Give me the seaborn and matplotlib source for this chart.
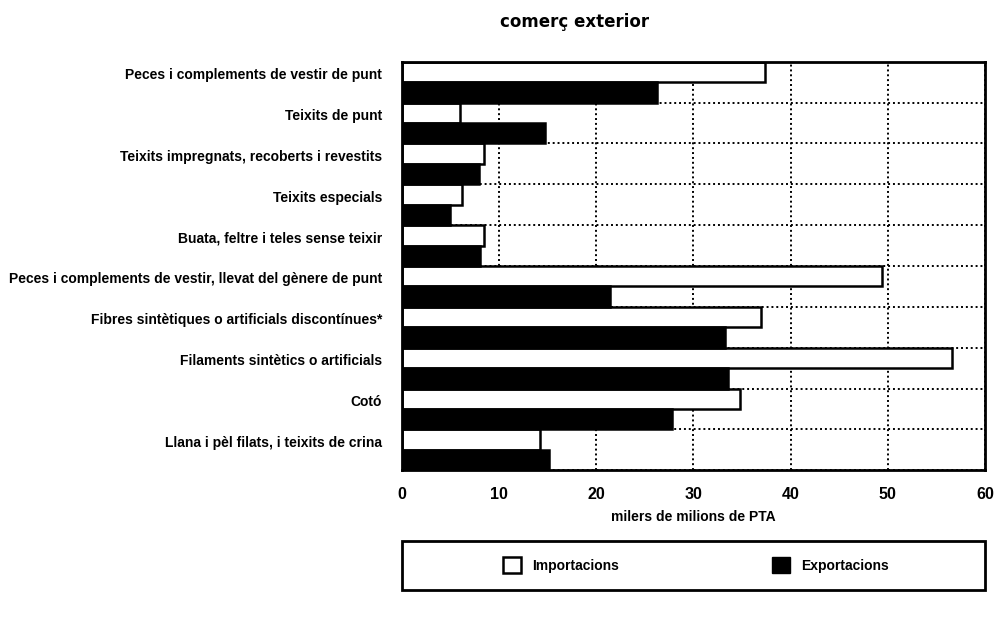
import pandas as pd
import numpy as np
import seaborn as sns
import matplotlib.pyplot as plt
from matplotlib.patches import Patch, Rectangle

# categories and values (milers de milions de PTA)
categories = [
    "Peces i complements de vestir de punt",
    "Teixits de punt",
    "Teixits impregnats, recoberts i revestits",
    "Teixits especials",
    "Buata, feltre i teles sense teixir",
    "Peces i complements de vestir, llevat del gènere de punt",
    "Fibres sintètiques o artificials discontínues*",
    "Filaments sintètics o artificials",
    "Cotó",
    "Llana i pèl filats, i teixits de crina",
]
importacions = [37.4, 6.0, 8.5, 6.2, 8.5, 49.4, 37.0, 56.6, 34.8, 14.2]
exportacions = [26.3, 14.7, 8.0, 5.0, 8.1, 21.4, 33.3, 33.6, 27.8, 15.2]
series = ["Importacions", "Exportacions"]
x_ticks = [0, 10, 20, 30, 40, 50, 60]

df = pd.DataFrame({
    "categoria": categories * 2,
    "valor": importacions + exportacions,
    "serie": [series[0]] * len(categories) + [series[1]] * len(categories),
})

sns.set_style("white")
plt.rcParams['font.family'] = ['Liberation Sans', 'DejaVu Sans']
plt.rcParams['text.color'] = 'black'
plt.rcParams['xtick.color'] = 'black'
plt.rcParams['ytick.color'] = 'black'
plt.rcParams['axes.labelcolor'] = 'black'

fig = plt.figure(figsize=(9.94, 6.18), dpi=100)
ax = fig.add_axes([0.404, 0.239, 0.587, 0.661])

sns.barplot(data=df, x="valor", y="categoria", hue="serie", hue_order=series,
            palette=["white", "black"], edgecolor="black", linewidth=1.8,
            width=1.0, dodge=True, orient="h", ax=ax, legend=False)

ax.set_xlim(0, 60)
ax.set_ylim(len(categories) - 0.5, -0.5)
ax.set_xticks(x_ticks)
ax.set_xticklabels([str(t) for t in x_ticks], fontsize=11.5, fontweight="bold")
ax.set_yticks(np.arange(len(categories)))
ax.set_yticklabels(categories, fontsize=10, fontweight="bold")
for lbl in ax.get_yticklabels():
    lbl.set_va("bottom")
ax.set_yticks(np.arange(len(categories) + 1) - 0.5, minor=True)
ax.tick_params(axis="y", which="major", length=0, pad=14)
ax.tick_params(axis="y", which="minor", length=10, width=1.8, direction="out", color="black")
ax.tick_params(axis="x", which="major", length=8, width=1.8, direction="out", color="black", pad=4)

ax.set_axisbelow(True)
ax.grid(False)
ax.xaxis.grid(True, which="major", linestyle=(0, (1, 1.5)), color="black", linewidth=1.4)
ax.yaxis.grid(True, which="minor", linestyle=(0, (1, 1.5)), color="black", linewidth=1.4)

for s in ax.spines.values():
    s.set_color("black")
    s.set_linewidth(2)

ax.set_xlabel("milers de milions de PTA", fontsize=10, fontweight="bold", labelpad=6)
ax.set_ylabel("")

fig.text(0.578, 0.965, "comerç exterior", ha="center", va="center",
         fontsize=12, fontweight="bold", family=["DejaVu Sans"])

# legend box below the axes
fig.patches.append(Rectangle((0.404, 0.045), 0.587, 0.079, transform=fig.transFigure,
                             facecolor="none", edgecolor="black", linewidth=2))
handles = [Patch(facecolor="white", edgecolor="black", linewidth=1.8),
           Patch(facecolor="black", edgecolor="black")]
fig.legend(handles, series, loc="center", ncol=2, bbox_to_anchor=(0.70, 0.085),
           frameon=False, prop={"weight": "bold", "size": 10},
           handlelength=1.3, handleheight=1.4, columnspacing=11)

fig.savefig("out.png", dpi=100)
